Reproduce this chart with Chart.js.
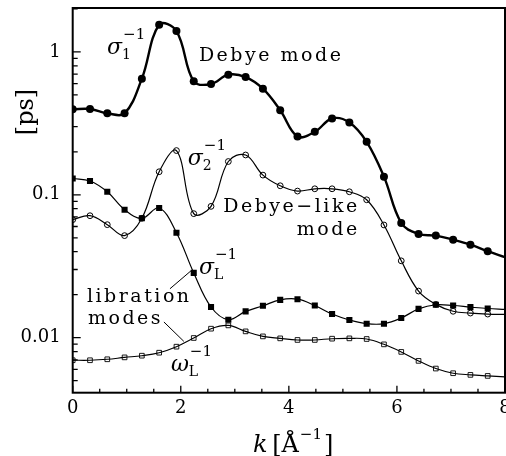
<!DOCTYPE html>
<html>
<head>
<meta charset="utf-8">
<script src="https://cdn.jsdelivr.net/npm/chart.js@4/dist/chart.umd.min.js"></script>
<style>
  body { margin: 0; background: #fff; }
</style>
</head>
<body>
<canvas id="relaxChart" width="506" height="456"></canvas>
<script>
// k grid [1/A] (last entry = end of fitted curve, no marker)
var kValues = [0, 0.32, 0.64, 0.96, 1.28, 1.6, 1.92, 2.24, 2.56, 2.88, 3.2, 3.52, 3.84,
  4.16, 4.48, 4.8, 5.12, 5.44, 5.76, 6.08, 6.4, 6.72, 7.04, 7.36, 7.68, 8];

// relaxation times [ps]
var sigma1 = [0.397, 0.399, 0.372, 0.372, 0.65, 1.55, 1.40, 0.623, 0.596, 0.693, 0.667, 0.553, 0.391,
  0.256, 0.276, 0.342, 0.321, 0.235, 0.134, 0.0635, 0.0532, 0.0518, 0.0485, 0.0448, 0.0403, 0.0366];
var sigma2 = [0.0670, 0.0714, 0.0618, 0.0518, 0.0685, 0.145, 0.204, 0.0738, 0.0830, 0.171, 0.190, 0.1374, 0.1157,
  0.1062, 0.1102, 0.1102, 0.1050, 0.0923, 0.0615, 0.0345, 0.0212, 0.0171, 0.0153, 0.01487, 0.01463, 0.01455];
var sigmaL = [0.130, 0.125, 0.105, 0.0787, 0.0685, 0.0809, 0.0543, 0.0284, 0.0164, 0.01336, 0.01527, 0.01673, 0.0184,
  0.0186, 0.0168, 0.01463, 0.0133, 0.01253, 0.01253, 0.01374, 0.0159, 0.0170, 0.0168, 0.01637, 0.0160, 0.0158];
var omegaL = [0.00695, 0.00695, 0.00706, 0.00728, 0.00748, 0.00785, 0.00865, 0.00995, 0.01156, 0.01219, 0.01107, 0.01021, 0.00989,
  0.00964, 0.00964, 0.00984, 0.00989, 0.00979, 0.00898, 0.00795, 0.00688, 0.00608, 0.00564, 0.00549, 0.00540, 0.00532];

var xLabels = [0, 2, 4, 6, 8];
var yLabels = [0.01, 0.1, 1];

var yMin = 0.00412;
var yMax = 2.03;

var serif = '"DejaVu Serif", "Liberation Serif", serif';

var toPoints = function(vals) {
  return vals.map(function(v, i) { return { x: kValues[i], y: v }; });
};

var lastIdx = kValues.length - 1;
var markerRadius = function(r) {
  return function(ctx) { return ctx.dataIndex === lastIdx ? 0 : r; };
};

var isLabel = function(v, list) {
  for (var i = 0; i < list.length; i++) {
    if (Math.abs(v - list[i]) <= Math.abs(list[i]) * 1e-6 + 1e-9) return true;
  }
  return false;
};

// inward tick marks on the log axis: 1..9 x 10^n
var yTickMarks = [];
for (var e = -3; e <= 0; e++) {
  for (var s = 1; s <= 9; s++) {
    var tv = s * Math.pow(10, e);
    if (tv >= yMin && tv <= yMax) yTickMarks.push(+tv.toPrecision(3));
  }
}

var drawSymbol = function(ctx, x, y, sym, sub, sup) {
  ctx.font = 'italic 22px ' + serif;
  ctx.textAlign = 'left';
  ctx.textBaseline = 'alphabetic';
  ctx.fillText(sym, x, y);
  var w = ctx.measureText(sym).width;
  ctx.font = '14px ' + serif;
  ctx.fillText(sub, x + w, y + 5);
  ctx.font = '15px ' + serif;
  ctx.fillText(sup, x + w + 1, y - 15);
};

var framePlugin = {
  id: 'frame',
  afterDraw: function(chart) {
    var ctx = chart.ctx;
    var a = chart.chartArea;
    var xs = chart.scales.x;
    var ys = chart.scales.y;
    var P = function(k, v) { return { x: xs.getPixelForValue(k), y: ys.getPixelForValue(v) }; };

    ctx.save();
    ctx.strokeStyle = '#000';
    ctx.fillStyle = '#000';

    // ticks pointing into the plot
    ctx.lineWidth = 1.3;
    ctx.beginPath();
    yTickMarks.forEach(function(v) {
      var y = ys.getPixelForValue(v);
      var len = isLabel(v, yLabels) ? 8 : 5;
      ctx.moveTo(a.left, y);
      ctx.lineTo(a.left + len, y);
    });
    for (var k = 0; k <= 8; k += 0.5) {
      var x = xs.getPixelForValue(k);
      var len = isLabel(k, xLabels) ? 7 : 4;
      ctx.moveTo(x, a.bottom);
      ctx.lineTo(x, a.bottom - len);
    }
    ctx.stroke();

    // box
    ctx.lineWidth = 2;
    ctx.strokeRect(a.left, a.top, a.right - a.left, a.bottom - a.top);

    // axis titles
    ctx.save();
    ctx.translate(27, ys.getPixelForValue(0.38));
    ctx.rotate(-Math.PI / 2);
    ctx.font = '24px ' + serif;
    ctx.textAlign = 'center';
    ctx.textBaseline = 'middle';
    ctx.fillText('[ps]', 0, 0);
    ctx.restore();

    var tx = 253, ty = 452;
    ctx.textAlign = 'left';
    ctx.textBaseline = 'alphabetic';
    ctx.font = 'italic 24px ' + serif;
    ctx.fillText('k', tx, ty);
    tx += ctx.measureText('k ').width - 3;
    ctx.font = '24px ' + serif;
    ctx.fillText('[Å', tx, ty);
    tx += ctx.measureText('[Å').width + 1;
    ctx.font = '15px ' + serif;
    ctx.fillText('−1', tx, ty - 13);
    tx += ctx.measureText('−1').width + 2;
    ctx.font = '24px ' + serif;
    ctx.fillText(']', tx, ty);

    // text labels
    ctx.letterSpacing = '2.5px';
    ctx.font = '19px ' + serif;
    var p = P(2.335, 0.858);
    ctx.fillText('Debye mode', p.x, p.y);
    ctx.textAlign = 'right';
    p = P(5.31, 0.0758);
    ctx.fillText('Debye−like', p.x, p.y);
    p = P(5.31, 0.0524);
    ctx.fillText('mode', p.x, p.y);
    ctx.textAlign = 'left';
    p = P(0.264, 0.01783);
    ctx.fillText('libration', p.x, p.y);
    p = P(0.283, 0.01253);
    ctx.fillText('modes', p.x, p.y);
    ctx.letterSpacing = '0px';

    p = P(0.636, 0.96);
    drawSymbol(ctx, p.x, p.y, 'σ', '1', '−1');
    p = P(2.13, 0.161);
    drawSymbol(ctx, p.x, p.y, 'σ', '2', '−1');
    p = P(2.335, 0.028);
    drawSymbol(ctx, p.x, p.y, 'σ', 'L', '−1');
    p = P(1.817, 0.00589);
    drawSymbol(ctx, p.x, p.y, 'ω', 'L', '−1');

    // leader lines
    ctx.lineWidth = 1;
    ctx.beginPath();
    p = P(2.19, 0.0294);
    ctx.moveTo(p.x, p.y);
    p = P(1.80, 0.022);
    ctx.lineTo(p.x, p.y);
    p = P(1.688, 0.01288);
    ctx.moveTo(p.x, p.y);
    p = P(2.057, 0.00942);
    ctx.lineTo(p.x, p.y);
    ctx.stroke();

    ctx.restore();
  }
};

var chart = new Chart(document.getElementById('relaxChart'), {
  type: 'line',
  data: {
    datasets: [{
      label: 'sigma1',
      data: toPoints(sigma1),
      borderColor: '#000',
      backgroundColor: '#000',
      borderWidth: 2.4,
      pointStyle: 'circle',
      pointRadius: markerRadius(4),
      pointBorderWidth: 0,
      tension: 0.38
    }, {
      label: 'sigma2',
      data: toPoints(sigma2),
      borderColor: '#000',
      backgroundColor: 'rgba(0,0,0,0)',
      borderWidth: 1.2,
      pointStyle: 'circle',
      pointRadius: markerRadius(2.9),
      pointBorderWidth: 1,
      tension: 0.38
    }, {
      label: 'sigmaL',
      data: toPoints(sigmaL),
      borderColor: '#000',
      backgroundColor: '#000',
      borderWidth: 1.2,
      pointStyle: 'rect',
      pointRadius: markerRadius(4.3),
      pointBorderWidth: 0,
      tension: 0.38
    }, {
      label: 'omegaL',
      data: toPoints(omegaL),
      borderColor: '#000',
      backgroundColor: 'rgba(0,0,0,0)',
      borderWidth: 1.1,
      pointStyle: 'rect',
      pointRadius: markerRadius(3.3),
      pointBorderWidth: 0.9,
      tension: 0.38
    }]
  },
  options: {
    responsive: false,
    animation: false,
    devicePixelRatio: 1,
    layout: {
      autoPadding: false,
      padding: { top: 8, right: 1, left: 0, bottom: 0 }
    },
    plugins: {
      legend: { display: false },
      tooltip: { enabled: false }
    },
    scales: {
      x: {
        type: 'linear',
        min: 0,
        max: 8,
        grid: { display: false, drawTicks: false },
        border: { display: false },
        afterFit: function(scale) {
          scale.height = 63.3;
          scale.paddingLeft = 0;
          scale.paddingRight = 0;
        },
        ticks: {
          stepSize: 0.5,
          autoSkip: false,
          maxRotation: 0,
          padding: 5,
          color: '#000',
          font: { family: serif, size: 18 },
          callback: function(v) { return isLabel(v, xLabels) ? String(v) : ''; }
        }
      },
      y: {
        type: 'logarithmic',
        min: yMin,
        max: yMax,
        grid: { display: false, drawTicks: false },
        border: { display: false },
        afterFit: function(scale) {
          scale.width = 72.7;
          scale.paddingTop = 0;
          scale.paddingBottom = 0;
        },
        afterBuildTicks: function(scale) {
          scale.ticks = yLabels.map(function(v) { return { value: v }; });
        },
        ticks: {
          autoSkip: false,
          padding: 12,
          color: '#000',
          font: { family: serif, size: 18 },
          callback: function(v) { return isLabel(v, yLabels) ? String(v) : ''; }
        }
      }
    }
  },
  plugins: [framePlugin]
});
</script>
</body>
</html>
